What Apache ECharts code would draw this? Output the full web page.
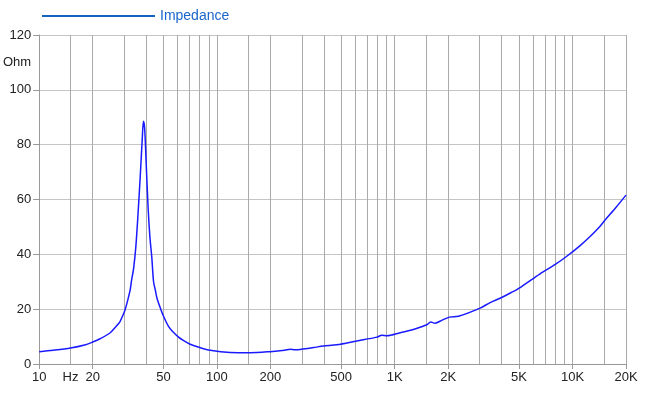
<!DOCTYPE html>
<html><head><meta charset="utf-8">
<script src="https://cdn.jsdelivr.net/npm/echarts@6/dist/echarts.min.js"></script>
<style>html,body{margin:0;padding:0;background:#fff}#c{width:650px;height:395px}</style>
</head><body><div id="c"></div>
<script>
const freqs = [10,12,15,18,20,22,25,27,28.5,30,30.5,31.5,32.5,33,34,35,36,37,38,38.6,39.2,40,41,42,43,44,45,46,48.3,50,53.4,56,60.8,65,70.7,80,91.6,118.7,153.7,199,240,258,275,293.8,350,397,472,612,794,846,902,1072,1300,1515,1596,1687,1850,2032,2282,3022,3442,3917,4500,5074,6572,8000,9290,11000,12560,14000,15250,17500,20000];
const impedance = [4.5,5.0,5.8,6.9,8.0,9.2,11.3,13.6,15.5,18.7,20,23.3,27,30,35,43,55,68,82,88.5,86,73,57,46,39,30,27,24,20,17.5,13.7,12,9.8,8.5,7.2,6.0,5.0,4.2,4.1,4.5,5.0,5.4,5.2,5.3,6.0,6.6,7.0,8.4,9.8,10.5,10.3,11.4,12.8,14.3,15.3,14.9,16,17.1,17.4,20.4,22.4,24.0,26.0,27.9,32.9,36.3,39.3,43.1,46.5,49.6,52.5,57.0,61.6];
const xLabelValues = [10,15,20,50,100,200,500,1000,2000,5000,10000,20000];
const xTickValues = [10,20,50,100,200,500,1000,2000,5000,10000,20000];
const xGridValues = [10,15,20,30,40,50,60,70,80,90,100,150,200,300,400,500,600,700,800,900,1000,1500,2000,3000,4000,5000,6000,7000,8000,9000,10000,15000,20000];
const yTicks = [0,20,40,60,80,100,120];
const seriesName = 'Impedance';
const yUnit = 'Ohm';

function fmtX(v){
  if (v === 15) return 'Hz';
  if (v >= 1000) return (v/1000) + 'K';
  return String(v);
}
const font = 'Liberation Sans, Arial, Helvetica, sans-serif';
const chart = echarts.init(document.getElementById('c'), null, {renderer:'canvas'});
chart.setOption({
  animation:false,
  backgroundColor:'#fff',
  legend:{
    left:37, top:4, itemWidth:113, itemHeight:2, itemGap:5,
    data:[{name:seriesName, icon:'rect', itemStyle:{color:'#1565c0'}}],
    textStyle:{color:'#1a66cc', fontSize:14, fontFamily:font}
  },
  grid:{left:39, right:24, top:35, bottom:31, containLabel:false},
  xAxis:[{
    type:'log', logBase:10, min:10, max:20000,
    axisLine:{show:true, lineStyle:{color:'#999', width:1}},
    axisTick:{show:true, length:5, customValues:xTickValues, lineStyle:{color:'#999'}},
    axisLabel:{customValues:xLabelValues, formatter:fmtX, color:'#222', fontSize:13, fontFamily:font, margin:7},
    splitLine:{show:false}
  },{
    type:'log', logBase:10, min:10, max:20000, position:'bottom',
    axisLine:{show:false}, axisTick:{show:false, customValues:xGridValues},
    axisLabel:{show:false},
    splitLine:{show:true, lineStyle:{color:'#aaa', width:1}}
  }],
  yAxis:[{
    type:'value', min:0, max:120, interval:20,
    axisLine:{show:true, lineStyle:{color:'#999'}},
    axisTick:{show:true, length:6, lineStyle:{color:'#999'}},
    axisLabel:{color:'#222', fontSize:13, fontFamily:font, margin:8},
    splitLine:{show:true, lineStyle:{color:'#c4c4c4', width:1}}
  },{
    type:'value', min:0, max:120, interval:10, position:'left',
    axisLine:{show:false}, axisTick:{show:false}, splitLine:{show:false},
    axisLabel:{color:'#222', fontSize:13, fontFamily:font, margin:8,
      formatter:function(v){ return v===110 ? yUnit : ''; }}
  }],
  series:[{
    name:seriesName, type:'line', xAxisIndex:0, yAxisIndex:0,
    showSymbol:false, smooth:0.3,
    lineStyle:{color:'#1a1aff', width:1.5},
    itemStyle:{color:'#1a1aff'},
    data:freqs.map((f,i)=>[f, impedance[i]])
  }]
});
</script></body></html>
